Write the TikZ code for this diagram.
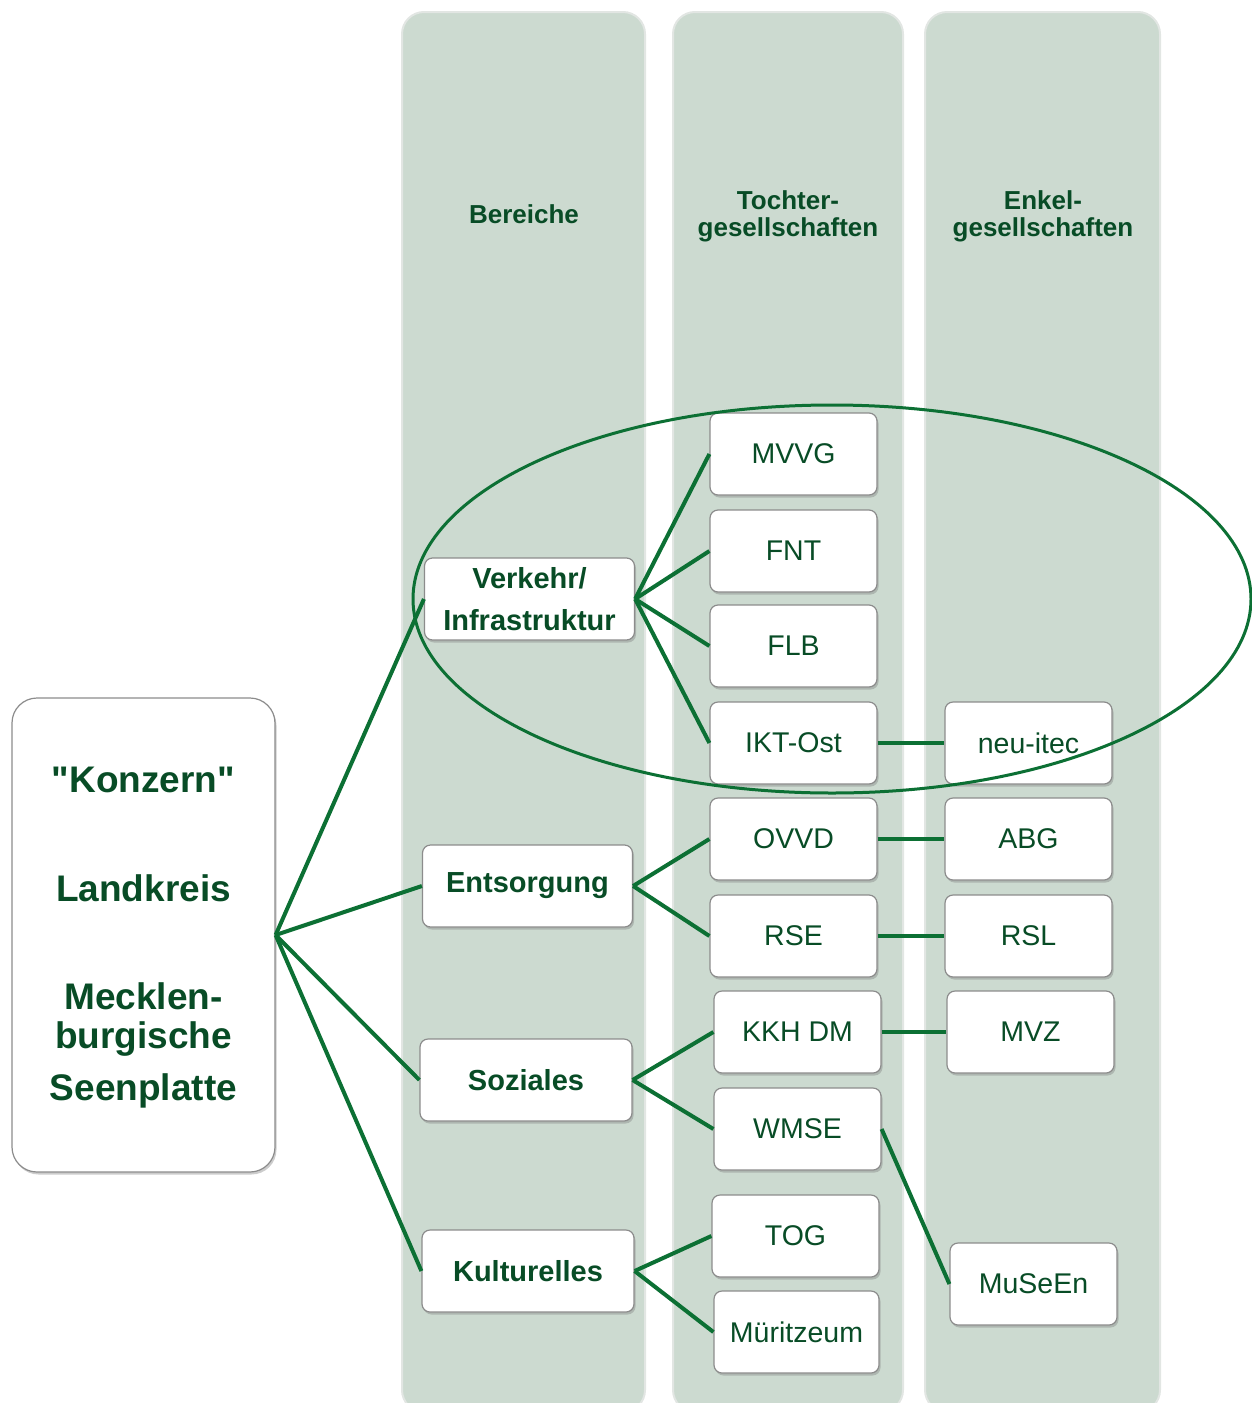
\documentclass[tikz,border=0pt]{standalone}
\usepackage{fontspec}
\setmainfont{Liberation Sans}[Ligatures=TeXOff]
\usetikzlibrary{shadows,positioning}
\definecolor{colbg}{RGB}{204,218,208}
\definecolor{coledge}{RGB}{226,230,227}
\definecolor{txtgreen}{RGB}{8,76,38}
\definecolor{linegreen}{RGB}{12,112,52}
\definecolor{boxgrey}{RGB}{140,140,140}

\begin{document}
\begin{tikzpicture}[x=1pt, y=-1pt,
  column/.style={fill=colbg, draw=coledge, line width=2pt, rounded corners=22pt},
  box/.style={draw=boxgrey, line width=1.2pt, fill=white, rounded corners=8pt, text=txtgreen,
    drop shadow={shadow xshift=1.5pt, shadow yshift=-2.5pt, opacity=0.4}, inner sep=0pt, align=center},
  tochter/.style={box, minimum width=167pt, minimum height=82pt, font=\fontsize{28.5}{34}\selectfont},
  bereich/.style={box, minimum width=210pt, minimum height=82pt, font=\bfseries\fontsize{29}{42}\selectfont},
  head/.style={text=txtgreen, align=center, font=\bfseries\fontsize{26}{27}\selectfont},
  link/.style={draw=linegreen, line width=4pt}]

\useasboundingbox (0,0) rectangle (1252,1403);

% columns
\fill[column] (402,12) rectangle (645,1412);
\fill[column] (673,12) rectangle (903,1412);
\fill[column] (925,12) rectangle (1160,1412);

\node[head] (hbereiche) at (524,214) {Bereiche};
\node[head] (htochter) at (788,216) {Tochter-\\gesellschaften};
\node[head] (henkel) at (1043,216) {Enkel-\\gesellschaften};

% Konzern
\node[box, rounded corners=25pt, minimum width=263pt, minimum height=474pt,
  font=\bfseries\fontsize{37}{39}\selectfont] (konzern) at (143.5,935)
  {};
\node[text=txtgreen, align=center, font=\bfseries\fontsize{37}{39}\selectfont] (konzerntext) at (143.5,938)
  {"Konzern"\\[70pt] Landkreis\\[69pt] Mecklen-\\ burgische\\[13pt] Seenplatte};

% Bereiche
\node[bereich] (verkehr) at (529.5,599) {Verkehr/\\Infrastruktur};
\node[bereich] (entsorgung) at (527.5,886) {\raisebox{-2pt}{Entsorgung}};
\node[bereich, minimum width=212pt] (soziales) at (526,1080) {Soziales};
\node[bereich, minimum width=212pt] (kultur) at (528,1271) {Kulturelles};

% Tochtergesellschaften
\node[tochter] (mvvg) at (793.5,454) {MVVG};
\node[tochter] (fnt) at (793.5,551) {FNT};
\node[tochter] (flb) at (793.5,646) {FLB};
\node[tochter] (ikt) at (793.5,743) {IKT-Ost};
\node[tochter] (ovvd) at (793.5,839) {OVVD};
\node[tochter] (rse) at (793.5,936) {RSE};
\node[tochter] (kkh) at (797.5,1032) {KKH DM};
\node[tochter] (wmse) at (797.5,1129) {WMSE};
\node[tochter] (tog) at (795.5,1236) {TOG};
\node[tochter, minimum width=165pt] (mueritz) at (796.5,1332) {Müritzeum};

% Enkelgesellschaften
\node[tochter] (neuitec) at (1028.5,743) {neu-itec};
\node[tochter] (abg) at (1028.5,839) {ABG};
\node[tochter] (rsl) at (1028.5,936) {RSL};
\node[tochter] (mvz) at (1030.5,1032) {MVZ};
\node[tochter] (museen) at (1033.5,1284) {MuSeEn};

% connectors
\draw[link] (konzern.east) -- (verkehr.west);
\draw[link] (konzern.east) -- (entsorgung.west);
\draw[link] (konzern.east) -- (soziales.west);
\draw[link] (konzern.east) -- (kultur.west);
\draw[link] (verkehr.east) -- (mvvg.west);
\draw[link] (verkehr.east) -- (fnt.west);
\draw[link] (verkehr.east) -- (flb.west);
\draw[link] (verkehr.east) -- (ikt.west);
\draw[link] (entsorgung.east) -- (ovvd.west);
\draw[link] (entsorgung.east) -- (rse.west);
\draw[link] (soziales.east) -- (kkh.west);
\draw[link] (soziales.east) -- (wmse.west);
\draw[link] (kultur.east) -- (tog.west);
\draw[link] (kultur.east) -- (mueritz.west);
\draw[link] (ikt.east) -- (neuitec.west);
\draw[link] (ovvd.east) -- (abg.west);
\draw[link] (rse.east) -- (rsl.west);
\draw[link] (kkh.east) -- (mvz.west);
\draw[link] (wmse.east) -- (museen.west);

% Verkehr group
\draw[draw=linegreen, line width=3pt] (832,599) ellipse [x radius=419, y radius=194];

\end{tikzpicture}
\end{document}
